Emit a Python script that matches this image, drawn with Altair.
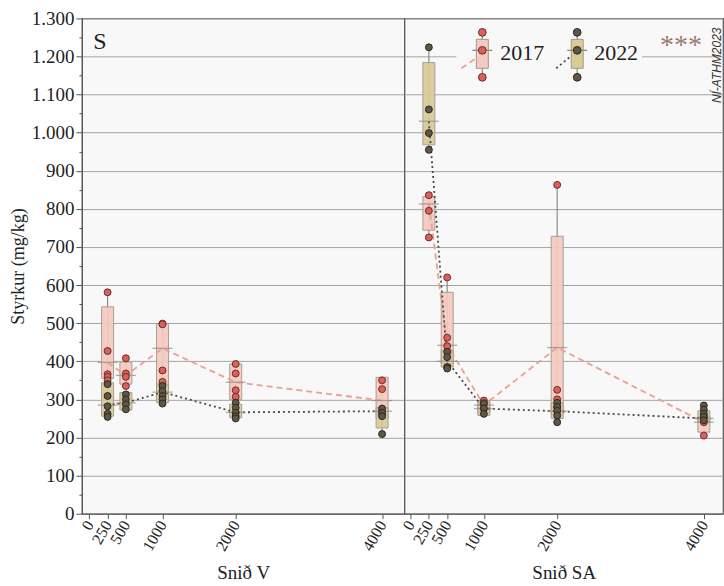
import altair as alt
import pandas as pd

# ---------------- data ----------------
distances = [250, 500, 1000, 2000, 4000]
years = ["2017", "2022"]
tick_values_x = [0, 250, 500, 1000, 2000, 4000]

# Snið V, 2017
v17_points = [[581, 427, 366, 359, 350], [408, 368, 359, 335], [499, 497, 376, 346],
              [393, 368, 324, 307], [350, 327, 262]]
v17_mean = [397, 363, 434, 345, 297]
v17_q1 = [355, 340, 330, 300, 250]
v17_q3 = [543, 398, 499, 393, 358]
v17_lo = [350, 335, 320, 300, 245]
v17_hi = [581, 408, 499, 393, 358]

# Snið V, 2022
v22_points = [[340, 309, 282, 262, 254], [313, 300, 287, 274], [335, 322, 309, 300, 289],
              [291, 278, 265, 256, 250], [276, 265, 256, 209]]
v22_mean = [285, 291, 319, 266, 269]
v22_q1 = [256, 272, 292, 252, 225]
v22_q3 = [344, 318, 340, 287, 278]
v22_lo = [254, 270, 289, 250, 209]
v22_hi = [344, 318, 340, 291, 278]

# Snið SA, 2017
sa17_points = [[836, 795, 725], [620, 462, 440], [297, 287, 276], [863, 325, 300, 280],
               [255, 240, 205]]
sa17_mean = [813, 442, 285, 436, 240]
sa17_q1 = [744, 394, 265, 262, 214]
sa17_q3 = [832, 581, 297, 728, 255]
sa17_lo = [725, 385, 262, 262, 205]
sa17_hi = [836, 620, 297, 863, 258]

# Snið SA, 2022
sa22_points = [[1224, 1061, 999, 955], [425, 411, 385, 381], [290, 276, 262],
               [291, 280, 270, 258, 240], [284, 273, 262, 254, 245]]
sa22_mean = [1030, 400, 276, 269, 250]
sa22_q1 = [968, 385, 258, 250, 240]
sa22_q3 = [1184, 429, 292, 290, 270]
sa22_lo = [955, 381, 258, 240, 240]
sa22_hi = [1224, 429, 292, 291, 284]

# ---------------- styling ----------------
SERIF = "Liberation Serif"
PINK = "#f6cabe"
OLIVE = "#d8cb97"
PT17 = "#d8615a"
PT22 = "#5e5646"
PTS17 = "#6a2b2b"
PTS22 = "#2b2820"
LINE17 = "#e9a191"
LINE22 = "#4a4a4a"
GRAY = "#8c8c8c"
BOXSTROKE = "#a19890"
FRAME = "#555555"
PT_SIZE = 48

fill_scale = alt.Scale(domain=years, range=[PINK, OLIVE])
line_scale = alt.Scale(domain=years, range=[LINE17, LINE22])
dash_scale = alt.Scale(domain=years, range=[[6, 4], [2, 3]])

major = "datum.value % 100 === 0"


def summary_df(year, mean, q1, q3, lo, hi):
    return pd.DataFrame({"dist": distances, "year": year, "mean": mean,
                         "q1": q1, "q3": q3, "lo": lo, "hi": hi})


def points_df(year, pts):
    return pd.DataFrame([{"dist": d, "year": year, "value": v}
                         for d, vs in zip(distances, pts) for v in vs])


def y_axis(show):
    common = dict(values=list(range(0, 1301, 50)), grid=True, gridColor="#a4a4a4",
                  gridOpacity={"condition": {"test": major, "value": 1}, "value": 0})
    if show:
        return alt.Axis(title="Styrkur (mg/kg)",
                        labelExpr=f"{major} ? replace(format(datum.value, ','), ',', '.') : ''",
                        tickSize={"condition": {"test": major, "value": 6}, "value": 3},
                        tickColor=FRAME, domainColor=FRAME, labelFont=SERIF, labelFontSize=19,
                        labelColor="#222", labelPadding=2, titleFont=SERIF, titleFontSize=18,
                        titleFontWeight="normal", titleColor="#222", titlePadding=4, **common)
    return alt.Axis(title=None, labels=False, ticks=False, domain=False, **common)


def x_axis(title):
    return alt.Axis(title=title, values=tick_values_x, format="d", labelAngle=300,
                    labelAlign="right", labelBaseline="middle", labelOverlap=False,
                    labelFlush=False, labelFont=SERIF, labelFontSize=16, labelColor="#222",
                    labelPadding=3, tickSize=5, tickColor=FRAME, domainColor=FRAME, grid=False,
                    titleFont=SERIF, titleFontSize=19, titleFontWeight="normal",
                    titleColor="#222", titlePadding=10)


def one(values):
    return alt.Data(values=[values])


def panel(summ, pts, xdomain, width, title, show_y, decorations):
    X = alt.X("dist:Q", scale=alt.Scale(domain=xdomain, nice=False, zero=False),
              axis=x_axis(title))
    yax = y_axis(show_y)
    ysc = alt.Scale(domain=[0, 1300], nice=False)

    def Y(f):
        return alt.Y(f"{f}:Q", scale=ysc, axis=yax)

    whisker = alt.Chart(summ).mark_rule(color=GRAY, strokeWidth=1.2).encode(
        x=X, y=Y("lo"), y2="hi")
    box = alt.Chart(summ).mark_bar(size=12, stroke=BOXSTROKE, strokeWidth=1, opacity=0.92).encode(
        x=X, y=Y("q1"), y2="q3",
        fill=alt.Fill("year:N", scale=fill_scale, legend=None))
    lines = alt.Chart(summ).mark_line(strokeWidth=1.8).encode(
        x=X, y=Y("mean"),
        color=alt.Color("year:N", scale=line_scale, legend=None),
        strokeDash=alt.StrokeDash("year:N", scale=dash_scale, legend=None))
    ticks = alt.Chart(summ).mark_tick(orient="horizontal", size=20, thickness=1.3,
                                      color=GRAY).encode(x=X, y=Y("mean"))
    pts17 = alt.Chart(pts).transform_filter("datum.year === '2017'").mark_circle(
        size=PT_SIZE, fill=PT17, stroke=PTS17, strokeWidth=1, opacity=1).encode(
        x=X, y=Y("value"))
    pts22 = alt.Chart(pts).transform_filter("datum.year === '2022'").mark_circle(
        size=PT_SIZE, fill=PT22, stroke=PTS22, strokeWidth=1, opacity=1).encode(
        x=X, y=Y("value"))
    return alt.layer(whisker, box, lines, ticks, pts17, pts22, *decorations).properties(
        width=width, height=496)


v_summ = pd.concat([summary_df("2017", v17_mean, v17_q1, v17_q3, v17_lo, v17_hi),
                    summary_df("2022", v22_mean, v22_q1, v22_q3, v22_lo, v22_hi)])
v_pts = pd.concat([points_df("2017", v17_points), points_df("2022", v22_points)])
sa_summ = pd.concat([summary_df("2017", sa17_mean, sa17_q1, sa17_q3, sa17_lo, sa17_hi),
                     summary_df("2022", sa22_mean, sa22_q1, sa22_q3, sa22_lo, sa22_hi)])
sa_pts = pd.concat([points_df("2017", sa17_points), points_df("2022", sa22_points)])

# ---------------- decorations (panel label, legend, stars, credit) ----------------
label_S = alt.Chart(one({"t": "S"})).mark_text(
    font=SERIF, fontSize=24, color="#222", align="center", baseline="middle").encode(
    text="t:N", x=alt.value(18), y=alt.value(24))


def legend_glyph(cx, fill, ptfill, ptstroke, linecol, dash, lx1, ly1, lx2, ly2):
    d = one({})
    return [
        alt.Chart(d).mark_rule(color=linecol, strokeWidth=1.8, strokeDash=dash).encode(
            x=alt.value(lx1), y=alt.value(ly1), x2=alt.value(lx2), y2=alt.value(ly2)),
        alt.Chart(d).mark_rule(color=GRAY, strokeWidth=1.2).encode(
            x=alt.value(cx), y=alt.value(14), y2=alt.value(59)),
        alt.Chart(d).mark_rect(fill=fill, stroke=BOXSTROKE, strokeWidth=1).encode(
            x=alt.value(cx - 6), x2=alt.value(cx + 6), y=alt.value(21), y2=alt.value(50)),
        alt.Chart(d).mark_rule(color=GRAY, strokeWidth=1.3).encode(
            x=alt.value(cx - 10), x2=alt.value(cx + 10), y=alt.value(32)),
        alt.Chart(alt.Data(values=[{"py": 14}, {"py": 32}, {"py": 59}])).mark_circle(
            size=60, fill=ptfill, stroke=ptstroke, strokeWidth=1, opacity=1).encode(
            x=alt.value(cx), y=alt.Y("py:Q", scale=None)),
    ]


legend_bg = alt.Chart(one({})).mark_rect(fill="#f8f8f8").encode(
    x=alt.value(52), x2=alt.value(238), y=alt.value(10), y2=alt.value(67))
legend_text = alt.Chart(alt.Data(values=[{"t": "2017", "px": 96}, {"t": "2022", "px": 190}])).mark_text(
    font=SERIF, fontSize=22, color="#222", align="left", baseline="middle").encode(
    text="t:N", x=alt.X("px:Q", scale=None), y=alt.value(35))
stars = alt.Chart(one({"t": "***"})).mark_text(
    font=SERIF, fontSize=28, color="#9b7b6c", align="center", baseline="alphabetic").encode(
    text="t:N", x=alt.value(277), y=alt.value(36))
credit = alt.Chart(one({"t": "NÍ-ATHM2023"})).mark_text(
    font="Liberation Sans", fontSize=12, fontStyle="italic", color="#333", angle=270,
    align="center", baseline="middle").encode(
    text="t:N", x=alt.value(313), y=alt.value(47))

legend_layers = ([legend_bg]
                 + legend_glyph(78, PINK, PT17, PTS17, LINE17, [6, 4], 57, 50, 73, 39)
                 + legend_glyph(173, OLIVE, PT22, PTS22, LINE22, [2, 3], 152, 50, 170, 35)
                 + [legend_text, stars, credit])

left = panel(v_summ, v_pts, [-33, 4237], 323, "Snið V", True, [label_S])
right = panel(sa_summ, sa_pts, [-15, 4193], 319, "Snið SA", False, legend_layers)

chart = alt.hconcat(left, right, spacing=0).properties(
    bounds="flush",
    padding={"left": 8, "top": 8, "right": 0, "bottom": 0},
    background="white",
).configure_view(fill="#f8f8f8", stroke=FRAME, strokeWidth=1.2)

chart.save("out.html", embed_options={"renderer": "svg", "actions": False})
